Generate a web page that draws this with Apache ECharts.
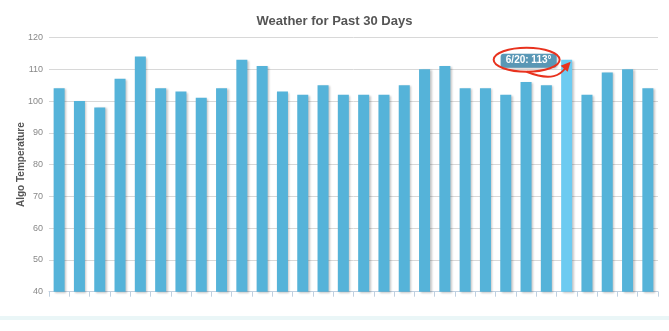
<!DOCTYPE html>
<html>
<head>
<meta charset="utf-8">
<script src="https://cdn.jsdelivr.net/npm/echarts@6/dist/echarts.min.js"></script>
<style>
html,body{margin:0;padding:0;background:#fff;}
#c{width:669px;height:331px;}
</style>
</head>
<body>
<div id="c"></div>
<script>
const categories = ["5/26","5/27","5/28","5/29","5/30","5/31","6/1","6/2","6/3","6/4","6/5","6/6","6/7","6/8","6/9","6/10","6/11","6/12","6/13","6/14","6/15","6/16","6/17","6/18","6/19","6/20","6/21","6/22","6/23","6/24"];
const temps = [104,100,98,107,114,104,103,101,104,113,111,103,102,105,102,102,102,105,110,111,104,104,102,106,105,113,102,109,110,104];
const yTicks = [40,50,60,70,80,90,100,110,120];
const highlightIndex = 25;

const FONT = '"Liberation Sans", Arial, Helvetica, sans-serif';
const chart = echarts.init(document.getElementById('c'), null, {renderer:'canvas'});

const data = temps.map((v,i)=>({
  value:v,
  itemStyle: i===highlightIndex ? {color:'#6ccbf1'} : undefined
}));

chart.setOption({
  animation:false,
  backgroundColor:'#ffffff',
  title:{
    text:'Weather for Past 30 Days',
    left:'center', top:10,
    textStyle:{fontFamily:FONT,fontSize:13,fontWeight:'bold',color:'#555555'}
  },
  grid:{left:49,right:11,top:37.5,bottom:39.3},
  xAxis:{
    type:'category',
    data:categories,
    boundaryGap:true,
    axisLine:{lineStyle:{color:'#c0d0e0',width:1}},
    axisTick:{show:true,interval:0,length:5,lineStyle:{color:'#c0d0e0'}},
    axisLabel:{show:false,interval:0},
    splitLine:{show:false}
  },
  yAxis:{
    type:'value',
    min:yTicks[0], max:yTicks[yTicks.length-1], interval:10,
    name:'Algo Temperature',
    nameLocation:'middle',
    nameGap:23,
    nameMoveOverlap:false,
    nameTextStyle:{fontFamily:FONT,fontSize:10,fontWeight:'bold',color:'#555555'},
    axisLine:{show:false},
    axisTick:{show:false},
    axisLabel:{fontFamily:FONT,fontSize:9,color:'#888888',margin:6},
    splitLine:{lineStyle:{color:'#d8d8d8',width:1}}
  },
  series:[{
    type:'bar',
    data:data,
    barWidth:11,
    itemStyle:{
      color:'#55b3d9',
      shadowColor:'rgba(0,0,0,0.22)',
      shadowOffsetX:1.5,
      shadowOffsetY:1,
      shadowBlur:2
    }
  }]
});

const p = chart.convertToPixel({seriesIndex:0},[highlightIndex, temps[highlightIndex]]);
const bx = p[0], by = p[1];
const label = categories[highlightIndex] + ': ' + temps[highlightIndex] + '°';

chart.setOption({
  graphic:[
    {type:'rect', left:0, top:316, shape:{x:0,y:0,width:669,height:4}, style:{fill:'#eaf6f7'}, silent:true},
    {type:'rect', shape:{x:bx-66, y:by-6, width:56, height:14, r:3},
      style:{fill:'rgba(78,145,178,0.92)', shadowColor:'rgba(0,0,0,0.2)', shadowBlur:2, shadowOffsetX:1, shadowOffsetY:1}, z:100},
    {type:'text', x:bx-38, y:by+1, style:{text:label, fill:'#ffffff', font:'bold 10px '+FONT, align:'center', verticalAlign:'middle'}, z:101},
    {type:'ellipse', shape:{cx:bx-40, cy:by, rx:33, ry:12},
      style:{fill:'none', stroke:'#e8321e', lineWidth:2}, z:102},
    {type:'bezierCurve', shape:{x1:bx-40, y1:by+12, cpx1:bx-15, cpy1:by+22, cpx2:bx-6, cpy2:by+15, x2:bx-1, y2:by+8},
      style:{fill:'none', stroke:'#e8321e', lineWidth:2}, z:102},
    {type:'polygon', shape:{points:[[bx+4,by+2],[bx-6,by+6],[bx+1,by+12]]}, style:{fill:'#e8321e'}, z:103}
  ]
});
</script>
</body>
</html>
